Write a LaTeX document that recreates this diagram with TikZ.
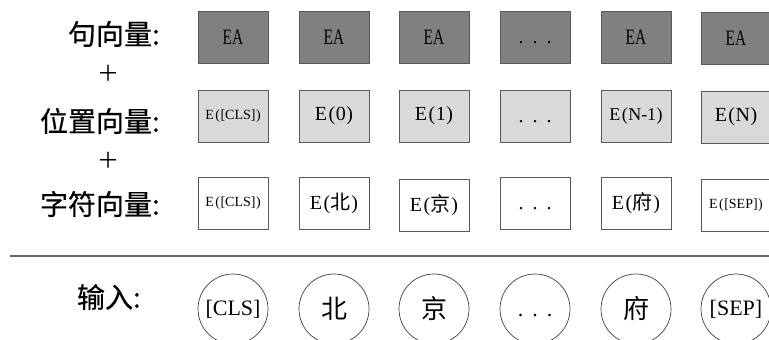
\documentclass[tikz,border=0pt]{standalone}
\usepackage{fontspec}
\setmainfont{Liberation Serif}
\newfontfamily\cjk{Noto Sans CJK SC}
\newfontfamily\cjkb[FakeBold=0.5]{Noto Sans CJK SC}
\newfontfamily\narrow[FakeStretch=0.7]{Liberation Serif}
\newcommand{\zh}[1]{{\cjk #1}}
\newcommand{\LP}{\kern1.5pt(\kern0.5pt}
\newcommand{\RP}{\kern0.5pt)}
\newcommand{\dotsx}{\vphantom{E}.\kern9pt.\kern9pt.}
\begin{document}
\begin{tikzpicture}[x=1pt,y=-1pt,
  box/.style={draw=black!65, line width=0.9pt, minimum width=70pt, minimum height=52pt, inner sep=0pt, font=\fontsize{20}{20}\selectfont},
  dark/.style={box, fill=black!50},
  light/.style={box, fill=black!15},
  plain/.style={box, fill=white},
  ea/.style={font=\narrow\fontsize{22}{22}\selectfont},
  tok/.style={circle, draw=black!75, line width=0.7pt, minimum size=70pt, inner sep=0pt, font=\fontsize{22}{22}\selectfont},
  tokzh/.style={tok, font=\cjk\fontsize{26}{26}\selectfont},
  lab/.style={anchor=east, inner sep=0pt, font=\cjkb\fontsize{28}{28}\selectfont},
  plus/.style={inner sep=0pt, font=\cjk\fontsize{22}{22}\selectfont},
  small/.style={font=\fontsize{14}{14}\selectfont},
  mid/.style={font=\fontsize{18}{18}\selectfont},
  sep/.style={draw=black!60, line width=1.2pt}]
\useasboundingbox (0,0) rectangle (769,340);
% labels
\node[lab] (l1) at (160,34) {句向量:};
\node[plus] (p1) at (108,73) {＋};
\node[lab] (l2) at (160,121) {位置向量:};
\node[plus] (p2) at (108,160) {＋};
\node[lab] (l3) at (160,204) {字符向量:};
\node[lab] (l4) at (141,297) {输入:};
% row 1: sentence vectors
\node[dark, ea] (a1) at (233,37) {EA};
\node[dark, ea] (a2) at (334,37) {EA};
\node[dark, ea] (a3) at (434,37) {EA};
\node[dark] (a4) at (535,37) {\dotsx};
\node[dark, ea] (a5) at (636,37) {EA};
\node[dark, ea] (a6) at (736,38) {EA};
% row 2: position vectors
\node[light, small] (b1) at (233,116) {E\LP[CLS]\RP};
\node[light] (b2) at (334,116) {E\LP 0\RP};
\node[light] (b3) at (434,116) {E\LP 1\RP};
\node[light] (b4) at (535,116) {\dotsx};
\node[light, mid] (b5) at (636,116) {E\LP N{-}1\RP};
\node[light] (b6) at (736,117) {E\LP N\RP};
% row 3: token vectors
\node[plain, small] (c1) at (233,203) {E\LP[CLS]\RP};
\node[plain] (c2) at (334,203) {E\LP\zh{北}\RP};
\node[plain] (c3) at (434,205) {E\LP\zh{京}\RP};
\node[plain] (c4) at (535,203) {\dotsx};
\node[plain] (c5) at (636,203) {E\LP\zh{府}\RP};
\node[plain, small] (c6) at (736,205) {E\LP[SEP]\RP};
% separator
\coordinate (s1) at (10,256);
\coordinate (s2) at (769,256);
\draw[sep] (s1) -- (s2);
% inputs
\node[tok] (t1) at (233,309) {[CLS]};
\node[tokzh] (t2) at (334,309) {北};
\node[tokzh] (t3) at (434,309) {京};
\node[tok] (t4) at (535,309) {\dotsx};
\node[tokzh] (t5) at (636,309) {府};
\node[tok] (t6) at (736,309) {[SEP]};
\end{tikzpicture}
\end{document}
